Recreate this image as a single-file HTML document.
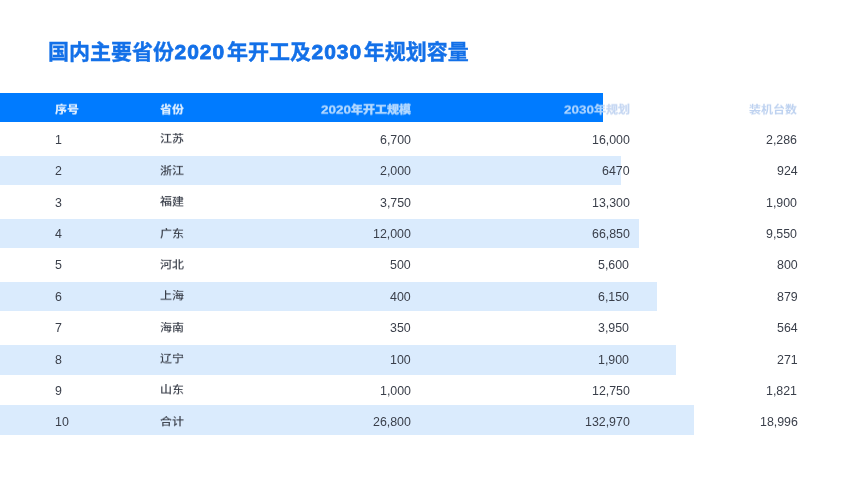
<!DOCTYPE html><html><head><meta charset="utf-8"><title>table</title><style>

*{margin:0;padding:0;box-sizing:border-box}
html,body{width:853px;height:480px;overflow:hidden;background:#fff}
body{position:relative;font-family:"Liberation Sans","Noto Sans CJK SC",sans-serif}
.t{position:absolute;left:48px;top:37px;font-size:21px;line-height:30px;font-weight:bold;color:#1370e8;will-change:transform;-webkit-text-stroke:0.35px #1370e8;white-space:nowrap;letter-spacing:0px}
.td{font-size:21px;letter-spacing:0.95px;margin-left:0.6px;margin-right:1.8px;font-weight:bold;-webkit-text-stroke:0.8px #1370e8}
.hd{font-size:13.5px}
.bar{position:absolute;left:0;background:#007bff}
.band{position:absolute;left:0;background:#daebfd}
.c{position:absolute;will-change:transform;font-size:12px;line-height:20px;height:20px;white-space:nowrap;color:#3a3f4a}
.h{font-weight:900;transform:scaleY(0.9);transform-origin:50% 50%}
.n{font-size:12.4px}
.k{font-size:12px;font-weight:500;transform:scaleY(0.87);transform-origin:50% 50%;margin-top:-0.6px}
.l{text-align:left}
.r{text-align:right}

</style></head><body>
<div class="t">国内主要省份<span class="td">2020</span>年开工及<span class="td">2030</span>年规划容量</div>
<div class="bar" style="top:93px;height:29.4px;width:603px"></div>
<div class="band" style="top:156px;height:29.4px;width:620.8px"></div>
<div class="band" style="top:219.2px;height:29.3px;width:639.4px"></div>
<div class="band" style="top:282.3px;height:29.2px;width:657px"></div>
<div class="band" style="top:345.2px;height:29.8px;width:675.5px"></div>
<div class="band" style="top:405px;height:30px;width:694px"></div>
<div class="c l h" style="left:55px;top:99.7px;color:#e2f0ff">序号</div>
<div class="c l h" style="left:160px;top:99.7px;color:#dcedff">省份</div>
<div class="c r h" style="right:442px;top:99.7px;color:#b4d9ff;-webkit-text-stroke:0.3px #b4d9ff"><span class="hd">2020</span>年开工规模</div>
<div class="c r h" style="right:223.5px;top:99.7px;color:transparent;font-weight:bold;width:80px;background:linear-gradient(to right,#b0d6ff 0,#b0d6ff 53.5px,#c4d6f2 53.5px);-webkit-background-clip:text;background-clip:text;-webkit-text-stroke:0.3px transparent"><span class="hd">2030</span>年规划</div>
<div class="c r h" style="right:55.5px;top:99.7px;color:#bed2f0;font-weight:bold">装机台数</div>
<div class="c l n" style="left:55px;top:130.0px;">1</div>
<div class="c l k" style="left:160px;top:130.0px;">江苏</div>
<div class="c r n" style="right:442px;top:130.0px;">6,700</div>
<div class="c r n" style="right:223.5px;top:130.0px;">16,000</div>
<div class="c r n" style="right:55.5px;top:130.0px;">2,286</div>
<div class="c l n" style="left:55px;top:161.37px;">2</div>
<div class="c l k" style="left:160px;top:161.37px;">浙江</div>
<div class="c r n" style="right:442px;top:161.37px;">2,000</div>
<div class="c r n" style="right:223.5px;top:161.37px;">6470</div>
<div class="c r n" style="right:55.5px;top:161.37px;">924</div>
<div class="c l n" style="left:55px;top:192.74px;">3</div>
<div class="c l k" style="left:160px;top:192.74px;">福建</div>
<div class="c r n" style="right:442px;top:192.74px;">3,750</div>
<div class="c r n" style="right:223.5px;top:192.74px;">13,300</div>
<div class="c r n" style="right:55.5px;top:192.74px;">1,900</div>
<div class="c l n" style="left:55px;top:224.11px;">4</div>
<div class="c l k" style="left:160px;top:224.11px;">广东</div>
<div class="c r n" style="right:442px;top:224.11px;">12,000</div>
<div class="c r n" style="right:223.5px;top:224.11px;">66,850</div>
<div class="c r n" style="right:55.5px;top:224.11px;">9,550</div>
<div class="c l n" style="left:55px;top:255.48px;">5</div>
<div class="c l k" style="left:160px;top:255.48px;">河北</div>
<div class="c r n" style="right:442px;top:255.48px;">500</div>
<div class="c r n" style="right:223.5px;top:255.48px;">5,600</div>
<div class="c r n" style="right:55.5px;top:255.48px;">800</div>
<div class="c l n" style="left:55px;top:286.85px;">6</div>
<div class="c l k" style="left:160px;top:286.85px;">上海</div>
<div class="c r n" style="right:442px;top:286.85px;">400</div>
<div class="c r n" style="right:223.5px;top:286.85px;">6,150</div>
<div class="c r n" style="right:55.5px;top:286.85px;">879</div>
<div class="c l n" style="left:55px;top:318.22px;">7</div>
<div class="c l k" style="left:160px;top:318.22px;">海南</div>
<div class="c r n" style="right:442px;top:318.22px;">350</div>
<div class="c r n" style="right:223.5px;top:318.22px;">3,950</div>
<div class="c r n" style="right:55.5px;top:318.22px;">564</div>
<div class="c l n" style="left:55px;top:349.59px;">8</div>
<div class="c l k" style="left:160px;top:349.59px;">辽宁</div>
<div class="c r n" style="right:442px;top:349.59px;">100</div>
<div class="c r n" style="right:223.5px;top:349.59px;">1,900</div>
<div class="c r n" style="right:55.5px;top:349.59px;">271</div>
<div class="c l n" style="left:55px;top:380.96px;">9</div>
<div class="c l k" style="left:160px;top:380.96px;">山东</div>
<div class="c r n" style="right:442px;top:380.96px;">1,000</div>
<div class="c r n" style="right:223.5px;top:380.96px;">12,750</div>
<div class="c r n" style="right:55.5px;top:380.96px;">1,821</div>
<div class="c l n" style="left:55px;top:412.33px;">10</div>
<div class="c l k" style="left:160px;top:412.33px;">合计</div>
<div class="c r n" style="right:442px;top:412.33px;">26,800</div>
<div class="c r n" style="right:223.5px;top:412.33px;">132,970</div>
<div class="c r n" style="right:55.5px;top:412.33px;">18,996</div>
</body></html>
